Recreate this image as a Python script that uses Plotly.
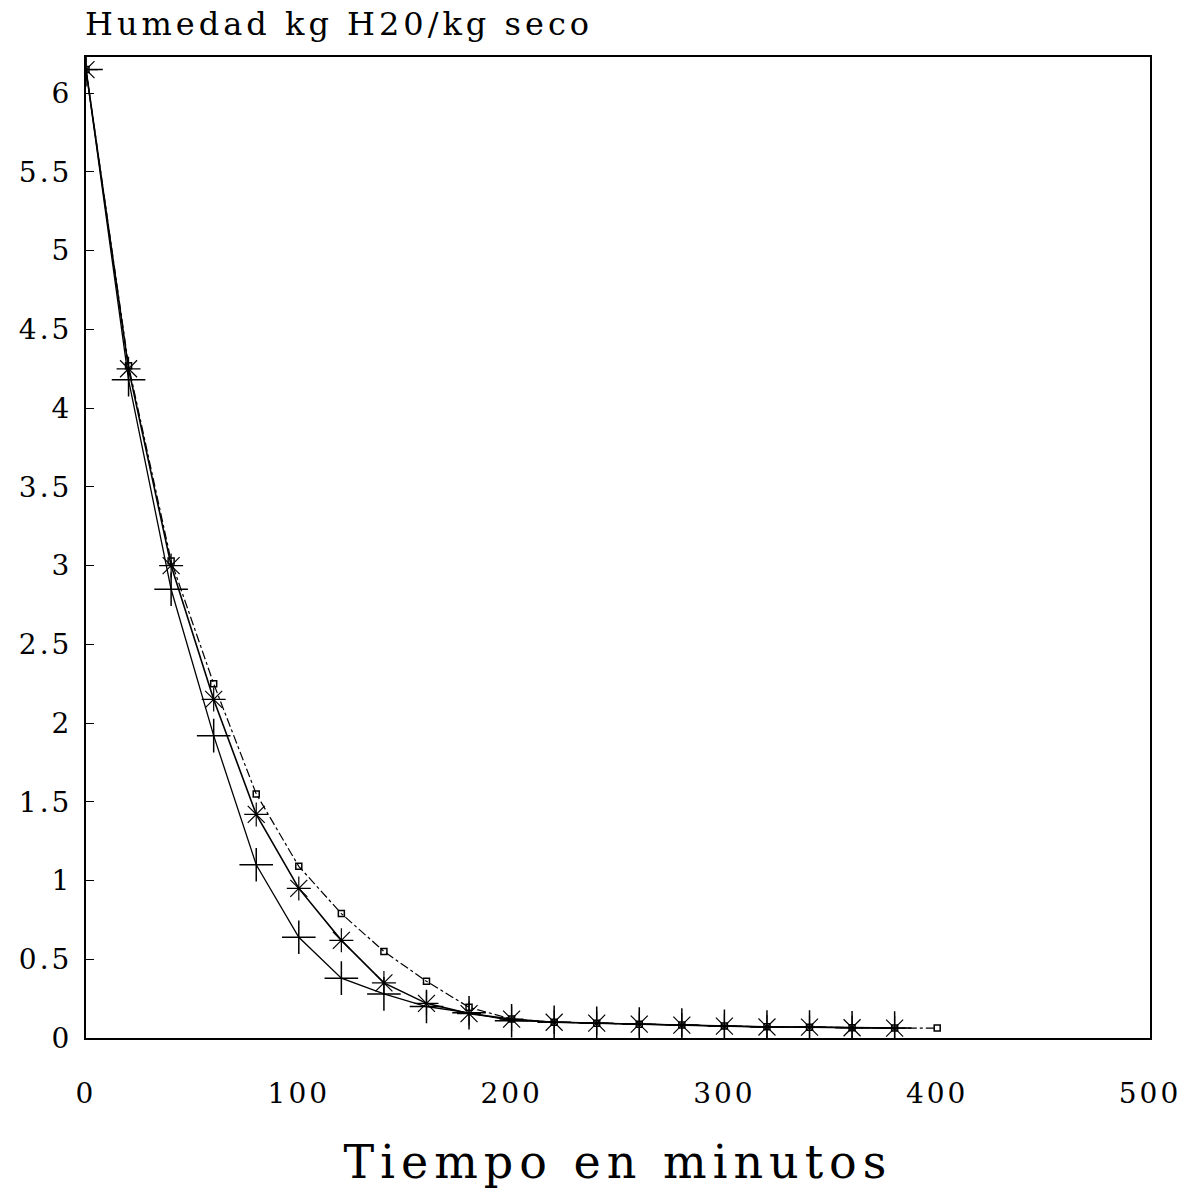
import plotly.graph_objects as go

# Time (minutes)
t_a = [0, 20, 40, 60, 80, 100, 120, 140, 160, 180, 200, 220, 240, 260, 280, 300, 320, 340, 360, 380, 400]
t_bc = [0, 20, 40, 60, 80, 100, 120, 140, 160, 180, 200, 220, 240, 260, 280, 300, 320, 340, 360, 380]

# Moisture kg H2O / kg dry solid
hum_a = [6.15, 4.27, 3.03, 2.25, 1.55, 1.09, 0.79, 0.55, 0.36, 0.195, 0.12, 0.10, 0.094, 0.088, 0.082, 0.076, 0.071, 0.069, 0.065, 0.063, 0.063]
hum_b = [6.15, 4.25, 3.00, 2.15, 1.42, 0.95, 0.62, 0.35, 0.22, 0.155, 0.12, 0.10, 0.094, 0.088, 0.082, 0.075, 0.07, 0.069, 0.065, 0.063]
hum_c = [6.15, 4.18, 2.85, 1.92, 1.10, 0.64, 0.38, 0.28, 0.20, 0.16, 0.11, 0.10, 0.094, 0.088, 0.082, 0.075, 0.07, 0.069, 0.065, 0.063]

x_ticks = [0, 100, 200, 300, 400, 500]
y_ticks = [0, 0.5, 1, 1.5, 2, 2.5, 3, 3.5, 4, 4.5, 5, 5.5, 6]
y_labels = ["0", "0.5", "1", "1.5", "2", "2.5", "3", "3.5", "4", "4.5", "5", "5.5", "6"]

FONT = "DejaVu Serif, Liberation Serif, serif"


def spaced(s, px):
    return '<span style="letter-spacing:%dpx">%s</span>' % (px, s)


fig = go.Figure()
fig.add_trace(go.Scatter(
    x=t_a, y=hum_a, mode="lines+markers",
    line=dict(color="black", width=1.2, dash="dashdot"),
    marker=dict(symbol="square-open", size=6, color="black", line=dict(width=1.5, color="black")),
    showlegend=False,
))
fig.add_trace(go.Scatter(
    x=t_bc, y=hum_b, mode="lines+markers",
    line=dict(color="black", width=1.6),
    marker=dict(symbol="asterisk-open", size=20, color="black", line=dict(width=1.2, color="black")),
    showlegend=False,
))
fig.add_trace(go.Scatter(
    x=t_bc, y=hum_c, mode="lines+markers",
    line=dict(color="black", width=1.3),
    marker=dict(symbol="cross-thin-open", size=24, color="black", line=dict(width=1.5, color="black")),
    showlegend=False,
))

fig.update_layout(
    width=1200, height=1191,
    margin=dict(l=86, r=50, t=57, b=143),
    plot_bgcolor="white", paper_bgcolor="white",
    font=dict(family=FONT, color="black", size=28),
    xaxis=dict(
        range=[0, 500], tickvals=x_ticks, ticktext=[spaced(str(v), 3) for v in x_ticks],
        showgrid=False, zeroline=False, showline=True, linecolor="black", linewidth=1.5,
        mirror=True, ticks="", ticklabelstandoff=30,
        title=dict(text=spaced("Tiempo en minutos", 6), font=dict(family=FONT, size=46), standoff=36),
    ),
    yaxis=dict(
        range=[0, 6.23], tickvals=y_ticks, ticktext=[spaced(s, 3) for s in y_labels],
        showgrid=False, zeroline=False, showline=True, linecolor="black", linewidth=2,
        mirror=True, ticks="inside", ticklen=8, tickcolor="black", ticklabelstandoff=6,
    ),
    annotations=[dict(
        text=spaced("Humedad kg H20/kg seco", 4), xref="paper", yref="paper",
        x=-0.003, y=1.0, xanchor="left", yanchor="bottom", yshift=12,
        showarrow=False, font=dict(family=FONT, size=32),
    )],
)

fig.write_html("out.html")
